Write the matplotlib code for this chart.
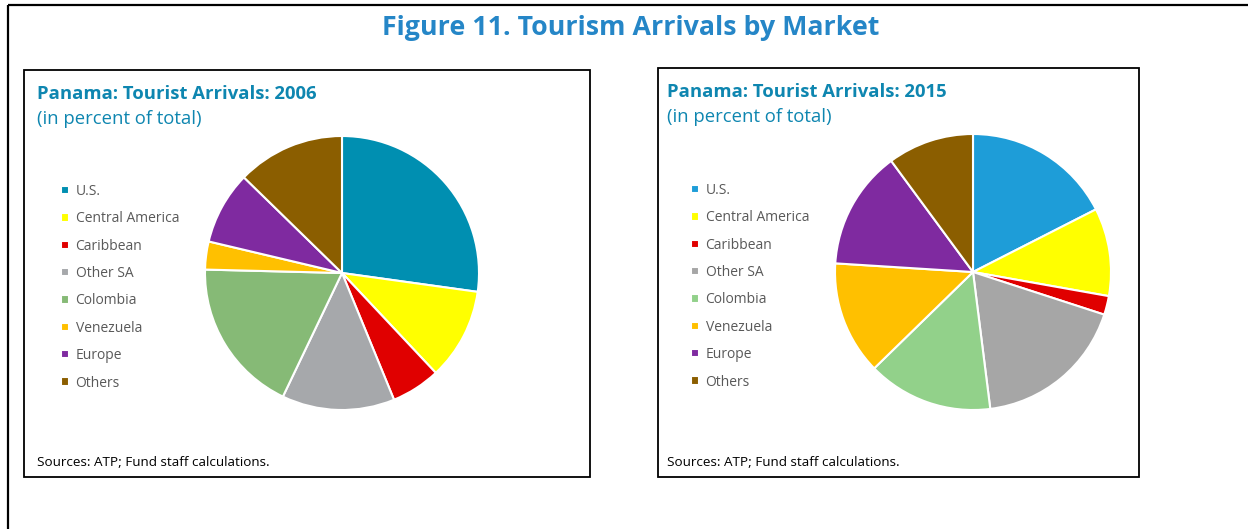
import matplotlib
matplotlib.use("Agg")
import matplotlib.pyplot as plt
from matplotlib.patches import Rectangle

plt.rcParams['font.family'] = ['Open Sans', 'DejaVu Sans']

# data (percent of total)
markets = ["U.S.", "Central America", "Caribbean", "Other SA",
           "Colombia", "Venezuela", "Europe", "Others"]
share_2006 = [27.2, 10.8, 5.8, 13.3, 18.3, 3.3, 8.6, 12.7]
share_2015 = [17.5, 10.3, 2.2, 18.0, 14.7, 13.3, 13.9, 10.1]

colors_2006 = ["#008FB1", "#FFFF00", "#E00000", "#A6A8AB",
               "#86BA76", "#FFC000", "#7F2AA0", "#8B5E00"]
colors_2015 = ["#1E9DD8", "#FFFF00", "#E00000", "#A6A6A6",
               "#92D18A", "#FFC000", "#7F2AA0", "#8B5E00"]

W, H = 1248, 529
fig = plt.figure(figsize=(W / 100, H / 100), dpi=100)

bg = fig.add_axes([0, 0, 1, 1])
bg.set_xlim(0, W)
bg.set_ylim(H, 0)
bg.axis('off')

# outer frame (runs off the right and bottom of the picture)
bg.add_patch(Rectangle((8, 5), 1260, 540, fill=False, lw=1.6, ec='black'))
bg.text(631, 28, "Figure 11. Tourism Arrivals by Market", ha='center', va='center',
        fontsize=19.3, fontweight='bold', color='#2586C7')

panels = [
    dict(box=(24, 70, 566, 407), pad=13, year="2006", vals=share_2006, cols=colors_2006,
         center=(342, 273), r=137, leg=(61, 184)),
    dict(box=(658, 68, 481, 409), pad=9, year="2015", vals=share_2015, cols=colors_2015,
         center=(973, 272), r=138, leg=(691, 183)),
]

for p in panels:
    x0, y0, bw, bh = p['box']
    tx = x0 + p['pad']
    bg.add_patch(Rectangle((x0, y0), bw, bh, fill=False, lw=1.3, ec='black'))
    bg.text(tx, y0 + 24, "Panama: Tourist Arrivals: " + p['year'], ha='left',
            va='center', fontsize=13.3, fontweight='bold', color='#0E86B0')
    bg.text(tx, y0 + 49, "(in percent of total)", ha='left', va='center',
            fontsize=13.3, color='#0E86B0')
    bg.text(tx, y0 + bh - 14, "Sources: ATP; Fund staff calculations.", ha='left',
            va='center', fontsize=9.7, color='black')

    cx, cy = p['center']
    r = p['r']
    ax = fig.add_axes([(cx - r) / W, (H - cy - r) / H, 2 * r / W, 2 * r / H])
    wedges, _ = ax.pie(p['vals'], colors=p['cols'], startangle=90, counterclock=False,
                       radius=1, wedgeprops=dict(edgecolor='white', linewidth=1.5))
    ax.set_xlim(-1, 1)
    ax.set_ylim(-1, 1)
    ax.axis('off')

    lx, ly = p['leg']
    fig.legend(wedges, markets, loc='upper left',
               bbox_to_anchor=(lx / W, 1 - ly / H), frameon=False,
               handlelength=0.55, handleheight=0.55, handletextpad=0.5,
               labelspacing=0.89, fontsize=10, labelcolor='#595959',
               borderpad=0, borderaxespad=0)

fig.savefig("out.png", dpi=100)
